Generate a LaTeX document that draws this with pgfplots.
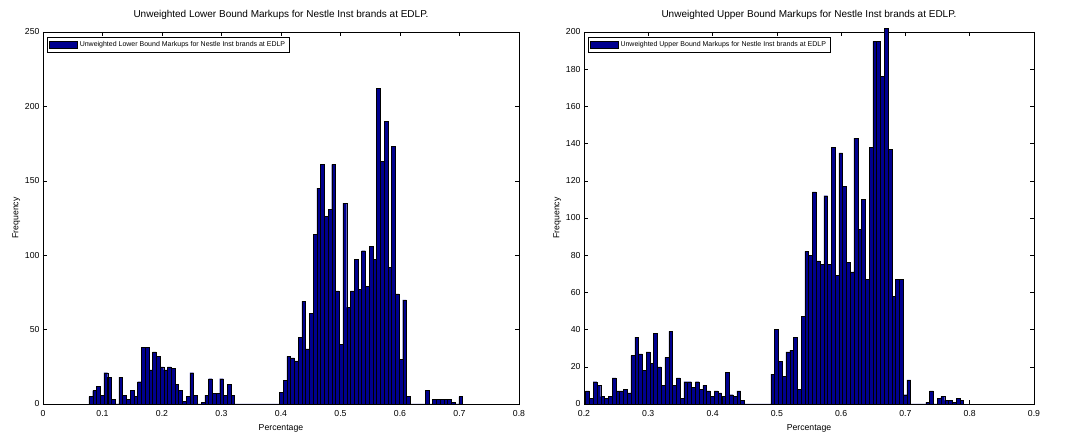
\documentclass[border=0pt]{standalone}
\usepackage{fontspec}
\setmainfont{Liberation Sans}
\usepackage{pgfplots}
\usepackage{pgfplotstable}
\pgfplotsset{compat=1.18}
\definecolor{barblue}{RGB}{0,0,143}

\pgfplotstableread{
x y
0.0804 5
0.0867 9
0.0930 12
0.0993 6
0.1056 21
0.1118 18
0.1181 3
0.1244 0
0.1307 18
0.1369 6
0.1432 3
0.1495 9
0.1558 5
0.1620 15
0.1683 38
0.1746 38
0.1809 23
0.1872 35
0.1934 32
0.1997 25
0.2060 23
0.2123 25
0.2185 24
0.2248 13
0.2311 9
0.2374 2
0.2436 5
0.2499 21
0.2562 6
0.2625 0
0.2688 1
0.2750 6
0.2813 17
0.2876 7
0.2939 7
0.3001 17
0.3064 6
0.3127 13
0.3190 6
0.3252 0
0.3315 0
0.3378 0
0.3441 0
0.3504 0
0.3566 0
0.3629 0
0.3692 0
0.3755 0
0.3817 0
0.3880 0
0.3943 0
0.4006 8
0.4068 16
0.4131 32
0.4194 31
0.4257 29
0.4320 45
0.4382 69
0.4445 37
0.4508 61
0.4571 114
0.4633 145
0.4696 161
0.4759 126
0.4822 131
0.4884 161
0.4947 76
0.5010 40
0.5073 135
0.5136 65
0.5198 76
0.5261 97
0.5324 77
0.5387 103
0.5449 79
0.5512 106
0.5575 97
0.5638 212
0.5700 163
0.5763 190
0.5826 92
0.5889 173
0.5952 74
0.6014 30
0.6077 70
0.6140 5
0.6203 0
0.6265 0
0.6328 0
0.6391 0
0.6454 9
0.6516 0
0.6579 3
0.6642 3
0.6705 3
0.6768 3
0.6830 3
0.6893 1
0.6956 0
0.7019 5
}\lowertable

\pgfplotstableread{
x y
0.2054 7
0.2113 3
0.2172 12
0.2231 10
0.2290 4
0.2348 3
0.2407 4
0.2466 14
0.2525 7
0.2584 7
0.2643 8
0.2701 6
0.2760 26
0.2819 36
0.2878 27
0.2936 18
0.2995 28
0.3054 22
0.3113 38
0.3172 20
0.3230 10
0.3289 25
0.3348 39
0.3407 10
0.3466 14
0.3524 3
0.3583 12
0.3642 12
0.3701 9
0.3760 12
0.3818 8
0.3877 10
0.3936 7
0.3995 4
0.4054 7
0.4112 6
0.4171 4
0.4230 17
0.4289 5
0.4348 4
0.4406 7
0.4465 2
0.4524 0
0.4583 0
0.4642 0
0.4700 0
0.4759 0
0.4818 0
0.4877 0
0.4936 16
0.4994 40
0.5053 23
0.5112 15
0.5171 28
0.5230 29
0.5288 36
0.5347 8
0.5406 47
0.5465 82
0.5524 80
0.5582 114
0.5641 77
0.5700 75
0.5759 112
0.5818 75
0.5876 138
0.5935 69
0.5994 135
0.6053 117
0.6112 76
0.6170 71
0.6229 143
0.6288 94
0.6347 110
0.6406 67
0.6464 138
0.6523 195
0.6582 195
0.6641 176
0.6700 202
0.6758 137
0.6817 58
0.6876 67
0.6935 67
0.6994 5
0.7052 13
0.7111 0
0.7170 0
0.7229 0
0.7288 0
0.7346 1
0.7405 7
0.7464 0
0.7523 3
0.7582 4
0.7640 2
0.7699 2
0.7758 1
0.7817 3
0.7876 2
}\uppertable

\pgfplotsset{
  mystyle/.style={
    scale only axis, height=372pt,
    ymin=0,
    axis line style={line width=0.6pt},
    tick align=inside,
    major tick length=4pt,
    tick style={black, line width=0.5pt},
    ticklabel style={font=\fontsize{8.7}{10}\selectfont},
    xticklabel style={yshift=-2.5pt},
    /pgf/number format/assume math mode=true,
    xticklabel style={/pgf/number format/fixed, /pgf/number format/precision=1},
    title style={font=\fontsize{10}{12}\selectfont, yshift=3pt},
    xlabel style={font=\fontsize{8.7}{10}\selectfont, yshift=-1pt},
    ylabel style={font=\fontsize{8.7}{10}\selectfont, yshift=-2pt},
    xlabel={Percentage}, ylabel={Frequency},
    legend style={at={(0.0084,0.987)}, anchor=north west,
      font=\fontsize{7}{8}\selectfont, draw=black, line width=0.5pt,
      inner sep=2.2pt, legend cell align=left},
    legend image code/.code={\draw[fill=barblue, draw=black, line width=0.3pt] (0pt,-3.5pt) rectangle (28pt,3.5pt);},
  }
}

\begin{document}
\begin{tikzpicture}[x=1pt,y=1pt]
\path[use as bounding box] (0,0) rectangle (1072,436);
\begin{axis}[mystyle, width=476pt, at={(43pt,32pt)}, anchor=south west,
  xmin=0, xmax=0.8, ymax=250,
  xtick={0,0.1,...,0.8}, ytick={0,50,...,250},
  title={Unweighted Lower Bound Markups for Nestle Inst brands at EDLP.}]
\addplot[ybar, bar width=0.006277, fill=barblue, draw=black, line width=0.35pt] table[x=x,y=y] {\lowertable};
\addlegendentry{Unweighted Lower Bound Markups for Nestle Inst brands at EDLP}
\end{axis}
\begin{axis}[mystyle, width=450pt, at={(584pt,32pt)}, anchor=south west,
  xmin=0.2, xmax=0.9, ymax=200, clip=false,
  xtick={0.2,0.3,...,0.9}, ytick={0,20,...,200},
  title={Unweighted Upper Bound Markups for Nestle Inst brands at EDLP.}]
\addplot[ybar, bar width=0.00588, fill=barblue, draw=black, line width=0.35pt] table[x=x,y=y] {\uppertable};
\addlegendentry{Unweighted Upper Bound Markups for Nestle Inst brands at EDLP}
\end{axis}
\end{tikzpicture}
\end{document}
